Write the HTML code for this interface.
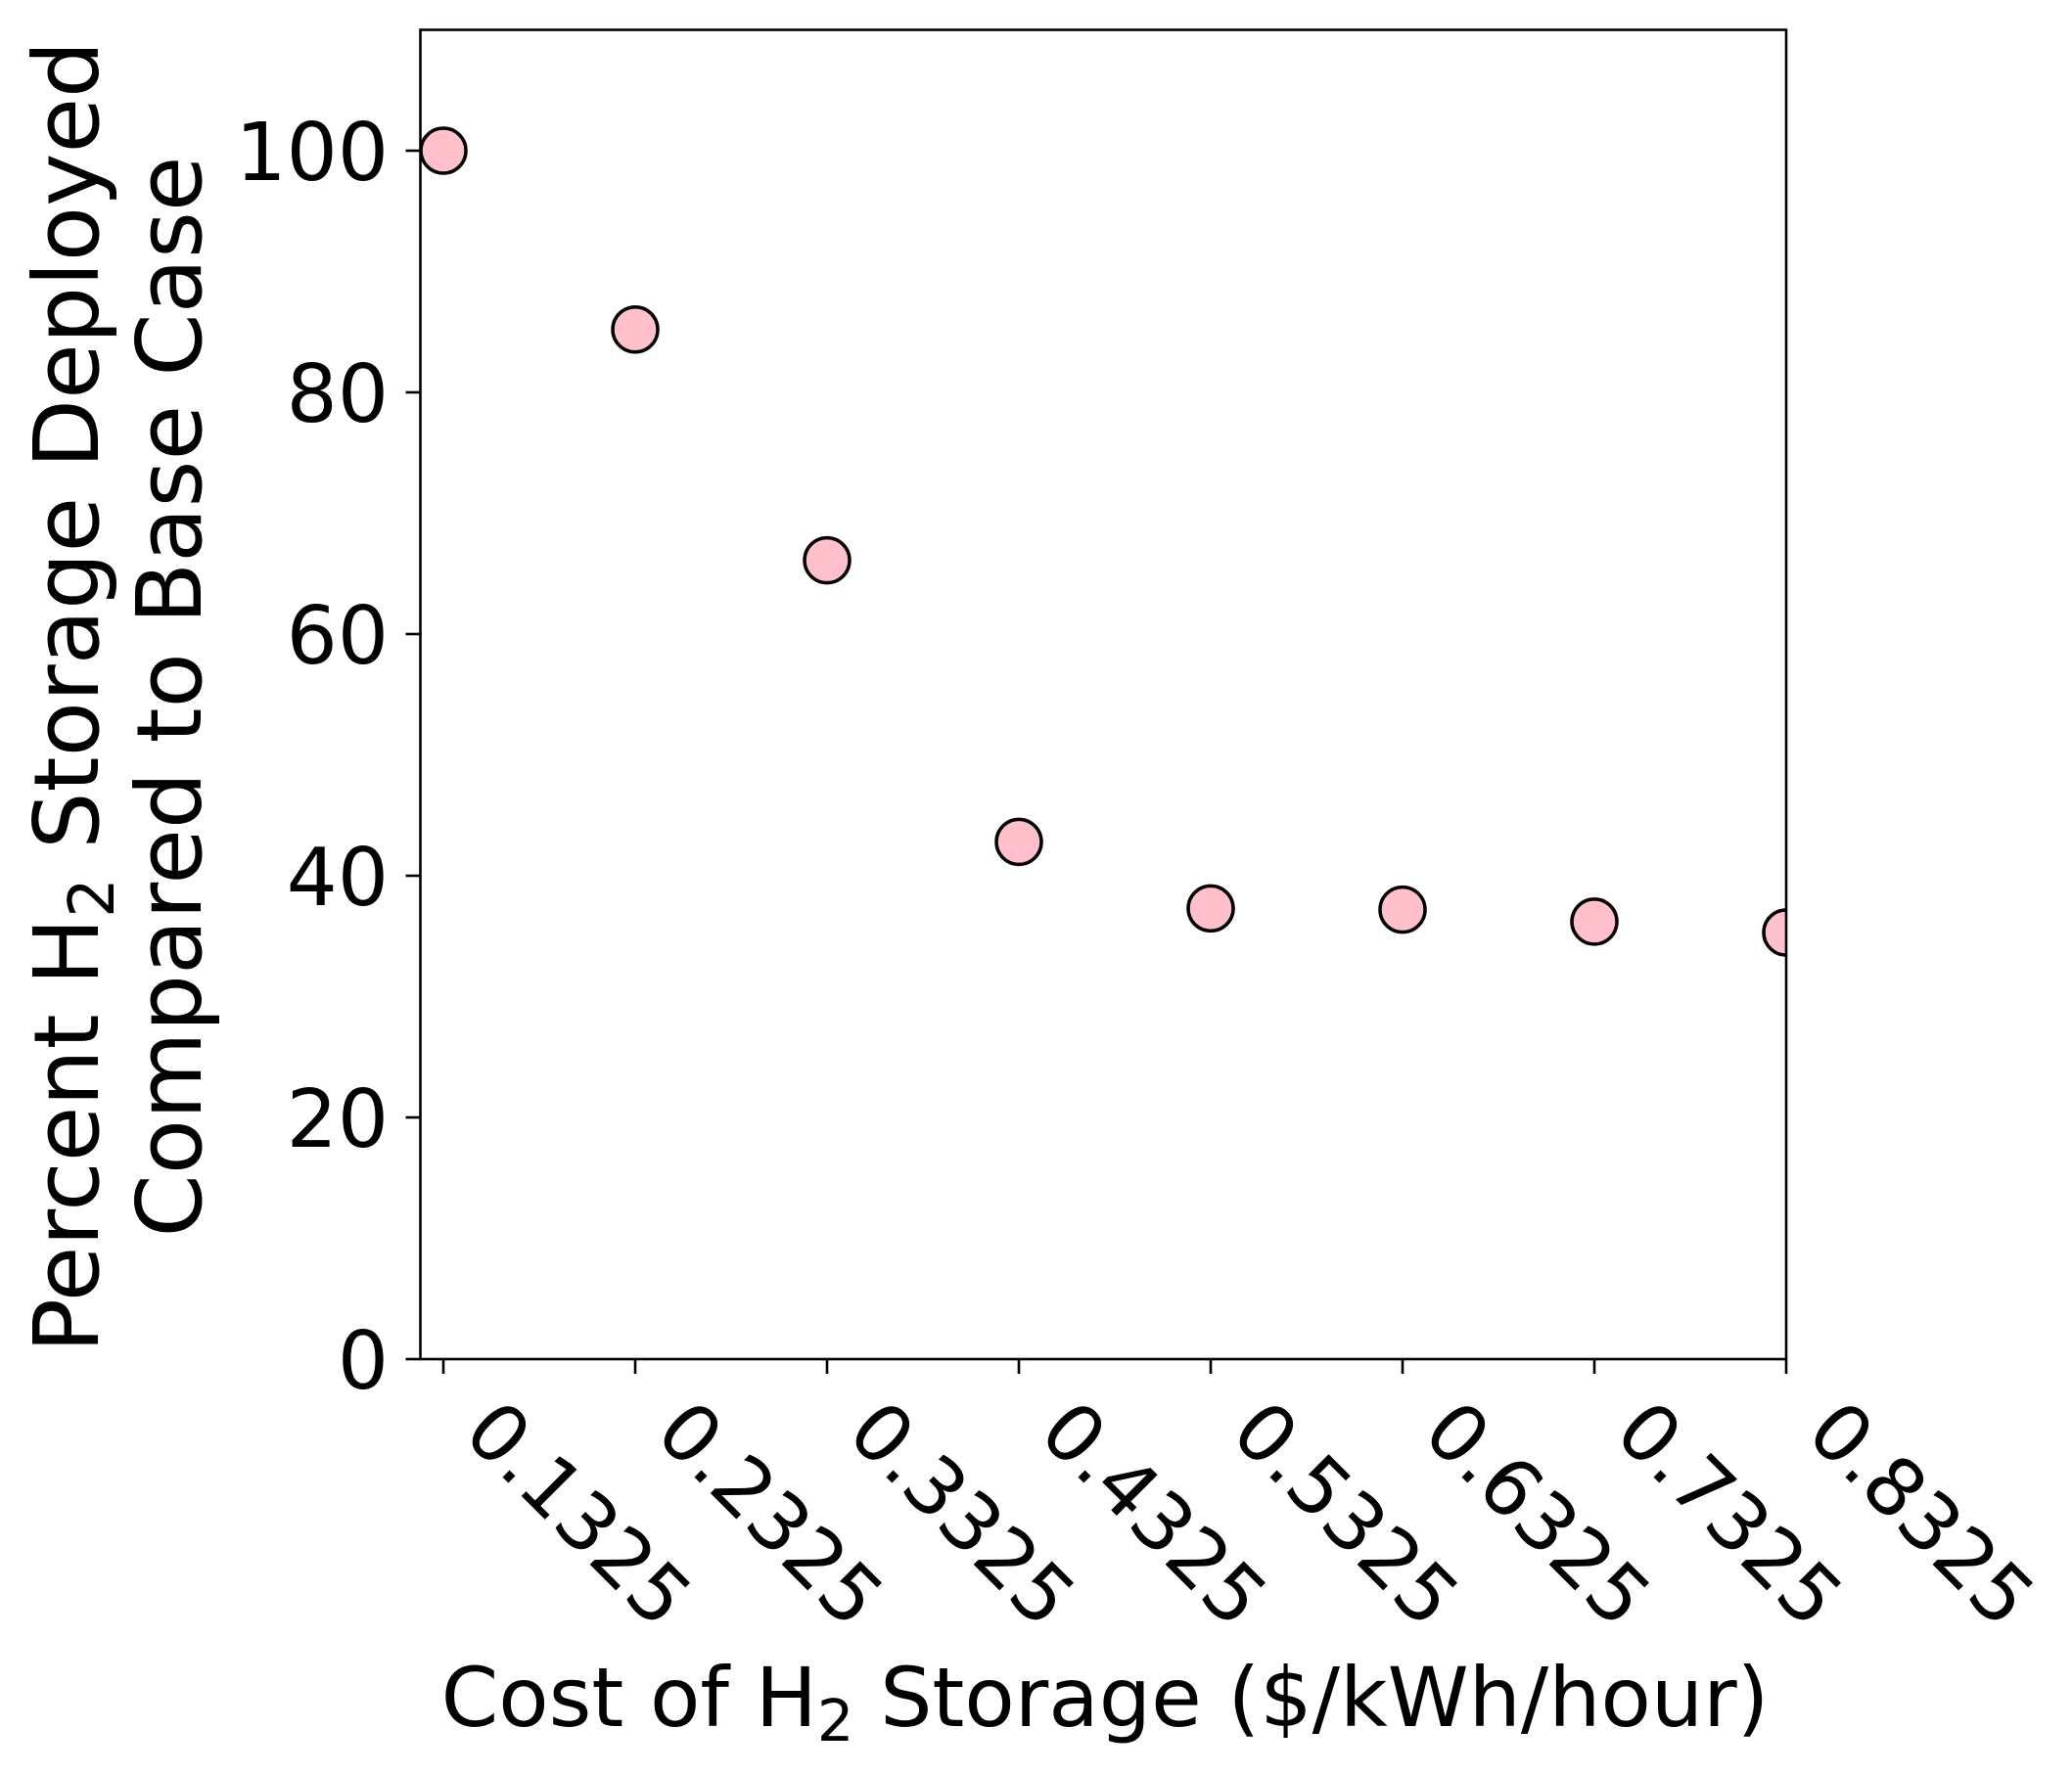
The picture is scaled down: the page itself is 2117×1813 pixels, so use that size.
<!DOCTYPE html>
<html><head><meta charset="utf-8"><style>
html,body{margin:0;padding:0;background:#fff;}
svg{display:block;font-family:"DejaVu Sans","Liberation Sans",sans-serif;}
</style></head><body>
<svg id="chart" width="2117" height="1813" viewBox="0 0 2117 1813" xmlns="http://www.w3.org/2000/svg">
<rect width="2117" height="1813" fill="#fff"/>
<g id="points-layer"></g>
<rect x="429.5" y="30.5" width="1395.5" height="1358.5" fill="none" stroke="#000" stroke-width="2.6"/>
<g id="ticks-layer"></g>
<text x="1129" y="1764" font-size="84" text-anchor="middle">Cost of H<tspan font-size="59" dy="15">2</tspan><tspan dy="-15"> Storage ($/kWh/hour)</tspan></text>
<text transform="translate(100,712) rotate(-90)" font-size="92" text-anchor="middle">Percent H<tspan font-size="64" dy="16">2</tspan><tspan dy="-16"> Storage Deployed</tspan></text>
<text transform="translate(205,712) rotate(-90)" font-size="92" text-anchor="middle">Compared to Base Case</text>
</svg>
<script>
const categories = ["0.1325","0.2325","0.3325","0.4325","0.5325","0.6325","0.7325","0.8325"];
const values = [100, 85.2, 66.1, 42.8, 37.3, 37.2, 36.2, 35.3];
const yTicks = [0, 20, 40, 60, 80, 100];
const yTickLabels = ["0","20","40","60","80","100"];

const NS = "http://www.w3.org/2000/svg";
const L = 429.5, R = 1825, T = 30.5, B = 1389;
const xMin = -0.12, xMax = 7, yMin = 0, yMax = 110;
function xs(i){ return L + (i - xMin) / (xMax - xMin) * (R - L); }
function ys(v){ return B - (v - yMin) / (yMax - yMin) * (B - T); }

const pts = document.getElementById('points-layer');
const ticks = document.getElementById('ticks-layer');
const clip = document.createElementNS(NS,'clipPath');
clip.setAttribute('id','plotclip');
const cr = document.createElementNS(NS,'rect');
cr.setAttribute('x',L); cr.setAttribute('y',T); cr.setAttribute('width',R-L); cr.setAttribute('height',B-T);
clip.appendChild(cr);
document.getElementById('chart').appendChild(clip);
pts.setAttribute('clip-path','url(#plotclip)');

values.forEach((v,i)=>{
  const c = document.createElementNS(NS,'circle');
  c.setAttribute('cx', xs(i)); c.setAttribute('cy', ys(v)); c.setAttribute('r', 23);
  c.setAttribute('fill','#ffc0cb'); c.setAttribute('stroke','#000'); c.setAttribute('stroke-width','3.5');
  
  
  pts.appendChild(c);
});

categories.forEach((lab,i)=>{
  const x = xs(i);
  const t = document.createElementNS(NS,'line');
  t.setAttribute('x1',x); t.setAttribute('x2',x); t.setAttribute('y1',B); t.setAttribute('y2',B+15);
  t.setAttribute('stroke','#000'); t.setAttribute('stroke-width','2.6');
  
  
  ticks.appendChild(t);
  const tx = document.createElementNS(NS,'text');
  tx.setAttribute('transform','translate(' + (x+37) + ',1448) rotate(45)');
  tx.setAttribute('font-size','81');
  tx.setAttribute('dominant-baseline','central');
  tx.textContent = lab;
  
  
  ticks.appendChild(tx);
});

yTicks.forEach((v,i)=>{
  const y = ys(v);
  const t = document.createElementNS(NS,'line');
  t.setAttribute('x1',L-15); t.setAttribute('x2',L); t.setAttribute('y1',y); t.setAttribute('y2',y);
  t.setAttribute('stroke','#000'); t.setAttribute('stroke-width','2.6');
  
  
  ticks.appendChild(t);
  const tx = document.createElementNS(NS,'text');
  tx.setAttribute('x', 397); tx.setAttribute('y', y + 30);
  tx.setAttribute('font-size','82'); tx.setAttribute('text-anchor','end');
  tx.textContent = yTickLabels[i];
  
  
  ticks.appendChild(tx);
});
</script>
</body></html>
